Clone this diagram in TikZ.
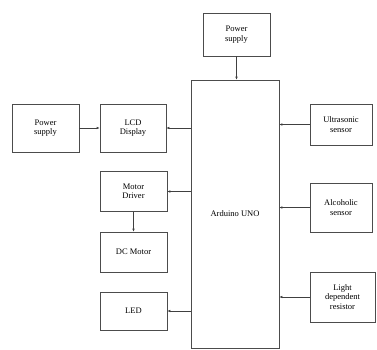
\documentclass[tikz,border=0pt]{standalone}
\usepackage{fontspec}
\setmainfont{Liberation Serif}
\usetikzlibrary{arrows.meta}
\begin{document}
\begin{tikzpicture}[x=1pt,y=-1pt,
  blk/.style={draw=black!70,line width=0.6pt,align=center,font=\fontsize{8.5}{9.5}\selectfont,inner sep=0pt},
  conn/.style={draw=black!75,line width=0.7pt,-{Latex[length=3pt,width=2.6pt]}}]
\useasboundingbox (0,0) rectangle (377,350);
\node[blk,minimum width=67pt,minimum height=43pt] (ps1) at (236.5,34.5) {Power\\supply};
\node[blk,minimum width=88pt,minimum height=268pt] (ard) at (235,214) {Arduino UNO};
\node[blk,minimum width=67pt,minimum height=48pt] (ps2) at (45.5,128) {Power\\supply};
\node[blk,minimum width=66pt,minimum height=48pt] (lcd) at (133,128) {LCD\\Display};
\node[blk,minimum width=62pt,minimum height=41pt] (us) at (341,124.5) {Ultrasonic\\sensor};
\node[blk,minimum width=67pt,minimum height=40pt] (md) at (133.5,191.5) {Motor\\Driver};
\node[blk,minimum width=67pt,minimum height=40pt] (dc) at (133.5,252) {DC Motor};
\node[blk,minimum width=67pt,minimum height=38pt] (led) at (133.5,311) {LED};
\node[blk,minimum width=62pt,minimum height=49pt] (alc) at (341,207.5) {Alcoholic\\sensor};
\node[blk,minimum width=65pt,minimum height=50pt] (ldr) at (342.5,297) {Light\\dependent\\resistor};
\draw[conn] (ps1.south) -- (ps1.south |- ard.north);
\draw[conn] (ps2.east) -- (lcd.west);
\draw[conn] (ard.west |- lcd.east) -- (lcd.east);
\draw[conn] (us.west) -- (ard.east |- us.west);
\draw[conn] (ard.west |- md.east) -- (md.east);
\draw[conn] (md.south) -- (dc.north);
\draw[conn] (ard.west |- led.east) -- (led.east);
\draw[conn] (alc.west) -- (ard.east |- alc.west);
\draw[conn] (ldr.west) -- (ard.east |- ldr.west);
\end{tikzpicture}
\end{document}
